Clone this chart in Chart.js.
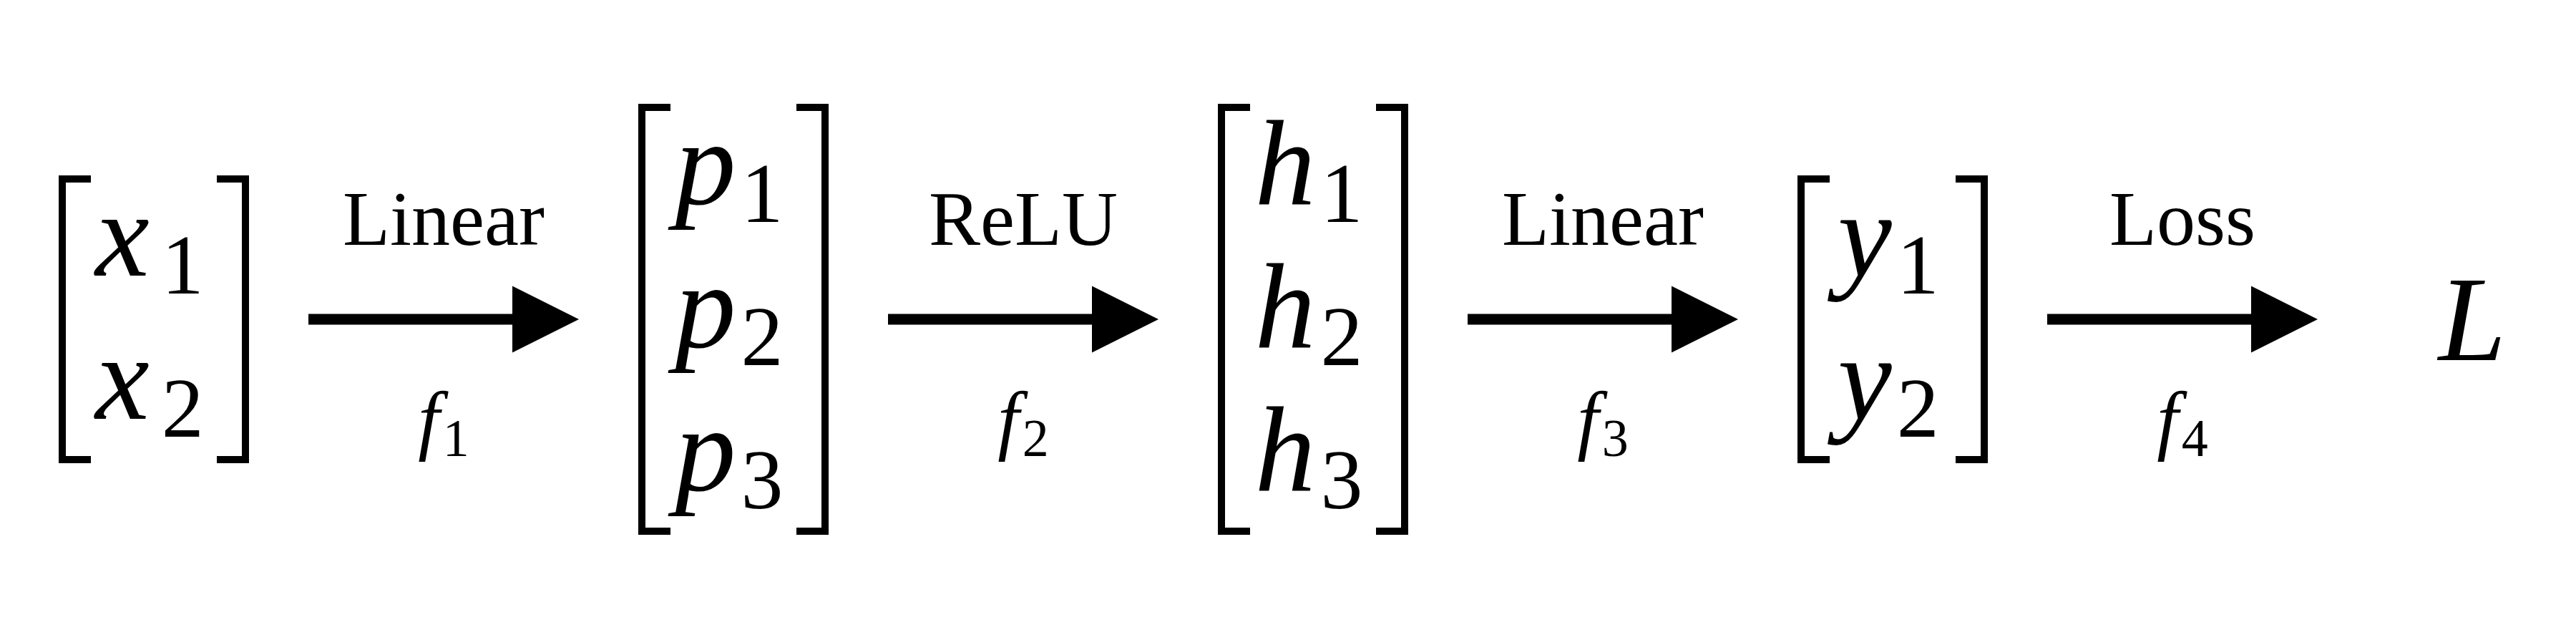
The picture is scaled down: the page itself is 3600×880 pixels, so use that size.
<!DOCTYPE html>
<html>
<head>
<meta charset="utf-8">
<script src="https://cdn.jsdelivr.net/npm/chart.js@4.4.0/dist/chart.umd.min.js"></script>
<style>
  html, body { margin: 0; padding: 0; background: #fff; }
  #wrap { width: 3600px; height: 880px; }
</style>
</head>
<body>
<div id="wrap"><canvas id="chart" width="3600" height="880"></canvas></div>
<script>
// nodes of the pipeline (vector name + number of entries, 0 = scalar)
const nodeNames = ["x", "p", "h", "y", "L"];
const nodeRows = [2, 3, 3, 2, 0];
// edges between consecutive nodes
const edgeLabels = ["Linear", "ReLU", "Linear", "Loss"];
const edgeFunc = "f";
const edgeSubs = ["1", "2", "3", "4"];

// layout (pixels)
const W = 3600, H = 880;
const STEP_PX = 810, FIRST_PX = 215, MID_PX = 446, ROW_PX = 200;
const SERIF = '"Liberation Serif", "DejaVu Serif", serif';
const MATH_PX = 170, SUB_PX = 118, LABEL_PX = 108, F_PX = 108, F_SUB_PX = 74;

const px = (p) => p / STEP_PX;   // horizontal pixels -> x units
const py = (p) => p / ROW_PX;    // vertical pixels -> row units

function lineSet(points, width) {
  return {
    data: points,
    showLine: true,
    borderColor: "#000",
    backgroundColor: "#000",
    borderWidth: width,
    borderCapStyle: "butt",
    borderJoinStyle: "miter",
    pointRadius: 0,
    pointHoverRadius: 0,
    tension: 0,
    fill: false,
  };
}

function buildDatasets() {
  const sets = [];
  const halfW = px(128), serif = px(40);
  nodeRows.forEach((n, i) => {
    if (!n) return;
    const hh = n / 2 - 0.02;
    // left bracket
    sets.push(lineSet([
      { x: i - halfW + serif, y: -hh }, { x: i - halfW, y: -hh },
      { x: i - halfW, y: hh }, { x: i - halfW + serif, y: hh },
    ], 10));
    // right bracket
    sets.push(lineSet([
      { x: i + halfW - serif, y: -hh }, { x: i + halfW, y: -hh },
      { x: i + halfW, y: hh }, { x: i + halfW - serif, y: hh },
    ], 10));
  });

  edgeLabels.forEach((_, i) => {
    const start = i + px(216), base = i + px(501), tip = i + px(594);
    const head = py(46.5);
    sets.push(lineSet([{ x: start, y: 0 }, { x: base + px(10), y: 0 }], 15));
    // arrow head: upper edge, then lower edge filled back to it
    const upper = lineSet([{ x: base, y: -head }, { x: tip, y: 0 }], 0);
    const lower = lineSet([{ x: base, y: head }, { x: tip, y: 0 }], 0);
    lower.fill = "-1";
    sets.push(upper, lower);
  });
  return sets;
}

function drawSub(ctx, base, sub, cx, baseline, big, small, drop, gapRatio) {
  ctx.font = `italic ${big}px ${SERIF}`;
  const w1 = ctx.measureText(base).width;
  ctx.font = `${small}px ${SERIF}`;
  const w2 = ctx.measureText(sub).width;
  const gap = big * gapRatio;
  const left = cx - (w1 + gap + w2) / 2;
  ctx.textAlign = "left";
  ctx.font = `italic ${big}px ${SERIF}`;
  ctx.fillText(base, left, baseline);
  ctx.font = `${small}px ${SERIF}`;
  ctx.fillText(sub, left + w1 + gap, baseline + drop);
}

const textPlugin = {
  id: "diagramText",
  afterDatasetsDraw(chart) {
    const { ctx } = chart;
    const xs = chart.scales.x, ys = chart.scales.y;
    ctx.save();
    ctx.fillStyle = "#000";
    ctx.textBaseline = "alphabetic";

    nodeNames.forEach((name, i) => {
      const cx = xs.getPixelForValue(i);
      const n = nodeRows[i];
      if (!n) {
        ctx.textAlign = "center";
        ctx.font = `italic ${MATH_PX}px ${SERIF}`;
        ctx.fillText(name, cx, ys.getPixelForValue(0) + 57);
        return;
      }
      for (let r = 0; r < n; r++) {
        const cy = ys.getPixelForValue(r - (n - 1) / 2);
        // x entries have a wider gap before the index in the original
        const gap = name === "x" ? 0.1 : 0.04;
        drawSub(ctx, name, String(r + 1), cx - 6, cy + 39, MATH_PX, SUB_PX, 25, gap);
      }
    });

    edgeLabels.forEach((label, i) => {
      const cx = xs.getPixelForValue(i + 0.5);
      const cy = ys.getPixelForValue(0);
      ctx.textAlign = "center";
      ctx.font = `${LABEL_PX}px ${SERIF}`;
      ctx.fillText(label, cx, cy - 104);
      drawSub(ctx, edgeFunc, edgeSubs[i], cx, cy + 176, F_PX, F_SUB_PX, 15, 0.04);
    });
    ctx.restore();
  },
};

new Chart(document.getElementById("chart"), {
  type: "scatter",
  data: { datasets: buildDatasets() },
  options: {
    responsive: false,
    devicePixelRatio: 1,
    animation: false,
    events: [],
    layout: { padding: 0 },
    scales: {
      x: { type: "linear", display: false, min: -FIRST_PX / STEP_PX, max: (W - FIRST_PX) / STEP_PX },
      y: { type: "linear", display: false, reverse: true, min: -MID_PX / ROW_PX, max: (H - MID_PX) / ROW_PX },
    },
    plugins: {
      legend: { display: false },
      tooltip: { enabled: false },
    },
  },
  plugins: [textPlugin],
});
</script>
</body>
</html>
